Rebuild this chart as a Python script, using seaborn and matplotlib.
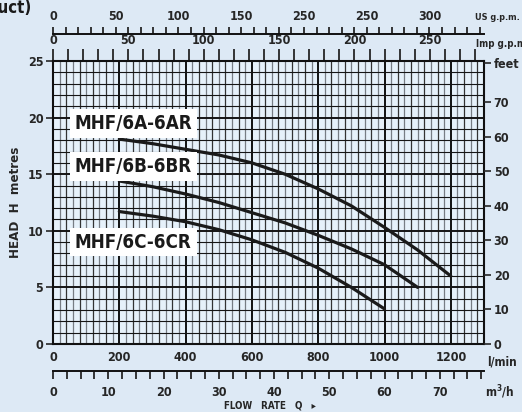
import numpy as np
import pandas as pd
import matplotlib
matplotlib.use("Agg")
import matplotlib.pyplot as plt
from matplotlib.ticker import MultipleLocator, FixedLocator
import seaborn as sns

# ---- data ----
flow_a = [200, 300, 400, 500, 600, 700, 800, 900, 1000, 1100, 1200]
head_a = [18.1, 17.7, 17.2, 16.7, 16.0, 15.0, 13.7, 12.2, 10.3, 8.3, 6.0]
flow_b = [200, 300, 400, 500, 600, 700, 800, 900, 1000, 1100]
head_b = [14.4, 13.9, 13.25, 12.5, 11.6, 10.7, 9.6, 8.4, 7.0, 5.0]
flow_c = [200, 300, 400, 500, 600, 700, 800, 900, 1000]
head_c = [11.7, 11.3, 10.8, 10.1, 9.2, 8.1, 6.7, 5.0, 3.1]
model_names = ["MHF/6A-6AR", "MHF/6B-6BR", "MHF/6C-6CR"]
label_pos_flow = [66, 66, 66]
label_pos_head = [19.5, 15.7, 9.0]

lmin_ticks = [0, 200, 400, 600, 800, 1000, 1200]
head_ticks = [0, 5, 10, 15, 20, 25]
feet_ticks = [0, 10, 20, 30, 40, 50, 60, 70]
us_ticks = [0, 50, 100, 150, 200, 250, 300]
us_labels = ["0", "50", "100", "150", "250", "250", "300"]
imp_ticks = [0, 50, 100, 150, 200, 250]
m3h_ticks = [0, 10, 20, 30, 40, 50, 60, 70]

frames = []
for name, f, h in zip(model_names, [flow_a, flow_b, flow_c], [head_a, head_b, head_c]):
    frames.append(pd.DataFrame({"flow": f, "head": h, "model": name}))
df = pd.concat(frames, ignore_index=True)

sns.set_style("ticks")
FAM = ["DejaVu Sans"]
plt.rcParams["font.family"] = FAM
plt.rcParams["font.weight"] = "bold"
plt.rcParams["font.stretch"] = "condensed"

BG = "#dde9f5"
fig = plt.figure(figsize=(5.22, 4.12), dpi=100, facecolor=BG)
ax = fig.add_axes([53 / 522, 1 - 344 / 412, (484 - 53) / 522, (344 - 61) / 412])
ax.set_facecolor("#e6f1fa")

XMAX = 1300
YMAX = 25
ax.set_xlim(0, XMAX)
ax.set_ylim(0, YMAX)

# grid
ax.xaxis.set_major_locator(FixedLocator(lmin_ticks))
ax.yaxis.set_major_locator(FixedLocator(head_ticks))
for x in np.arange(20, XMAX, 20):
    if x % 200 == 0:
        ax.axvline(x, color="#111111", lw=1.4, zorder=1)
    elif x % 40 == 0:
        ax.axvline(x, color="#333333", lw=0.9, zorder=1)
    else:
        ax.axvline(x, color="#777d84", lw=0.9, zorder=1)
for y in np.arange(1, YMAX, 1):
    ax.axhline(y, color="#151515", lw=1.4 if y % 5 == 0 else 0.8, zorder=1)

sns.lineplot(data=df, x="flow", y="head", hue="model", palette=["#1a1a1a"] * 3,
             legend=False, lw=2.3, ax=ax, zorder=3, sort=False)

for name, fx, hy in zip(model_names, label_pos_flow, label_pos_head):
    ax.text(fx, hy, name, ha="left", va="center", fontsize=13.5, fontweight="bold",
            fontstretch="condensed", color="#1a1a1a", zorder=4,
            bbox=dict(facecolor="white", edgecolor="none", pad=3.5))

for s in ax.spines.values():
    s.set_color("#111111")
    s.set_linewidth(1.5)

ax.set_xlabel("")
ax.set_ylabel("HEAD  H  metres", fontsize=9.5, fontweight="bold", labelpad=4)
ax.tick_params(axis="x", which="both", length=0, pad=5, labelsize=9)
ax.tick_params(axis="y", which="major", length=5, width=1.2, labelsize=9, pad=2)
ax.tick_params(axis="y", which="minor", length=0)
ax.set_xticklabels([str(t) for t in lmin_ticks], fontweight="bold")
ax.set_yticklabels([str(t) for t in head_ticks], fontweight="bold")

# right: feet
axr = ax.twinx()
axr.set_ylim(0, YMAX / 0.3048)
axr.set_yticks(feet_ticks + [81.3])
axr.set_yticklabels([str(t) for t in feet_ticks] + ["feet"], fontweight="bold")
axr.tick_params(axis="y", length=5, width=1.2, labelsize=9, pad=2)
for s in axr.spines.values():
    s.set_visible(False)

# top: Imp g.p.m.
imp = ax.secondary_xaxis("top", functions=(lambda x: x / 4.546, lambda g: g * 4.546))
imp.set_xticks(imp_ticks)
imp.set_xticklabels([str(t) for t in imp_ticks], fontweight="bold")
imp.xaxis.set_minor_locator(MultipleLocator(10))
imp.tick_params(axis="x", which="major", length=9, width=1.3, labelsize=9, pad=1)
imp.tick_params(axis="x", which="minor", length=9, width=1.3)
imp.spines["top"].set_visible(False)

# top: US g.p.m.
us = ax.secondary_xaxis(1 + 27 / 283, functions=(lambda x: x / 3.785, lambda g: g * 3.785))
us.set_xticks(us_ticks)
us.set_xticklabels(us_labels, fontweight="bold")
us.xaxis.set_minor_locator(MultipleLocator(10))
us.tick_params(axis="x", which="major", length=5, width=1.3, labelsize=9, pad=3)
us.tick_params(axis="x", which="minor", length=5, width=1.3)
us.spines["top"].set_linewidth(1.4)
us.spines["top"].set_color("#111111")

# bottom: m3/h
m3 = ax.secondary_xaxis(-27 / 283, functions=(lambda x: x * 0.06, lambda q: q / 0.06))
m3.set_xticks(m3h_ticks)
m3.set_xticklabels([str(t) for t in m3h_ticks], fontweight="bold")
m3.xaxis.set_minor_locator(MultipleLocator(2.5))
m3.tick_params(axis="x", which="major", length=6, width=1.3, labelsize=9, pad=5)
m3.tick_params(axis="x", which="minor", length=6, width=1.3)
m3.spines["bottom"].set_linewidth(1.4)
m3.spines["bottom"].set_color("#111111")

# unit labels
fig.text(487 / 522, 1 - 362 / 412, "l/min", fontsize=8.5, fontweight="bold", va="center", ha="left")
fig.text(485 / 522, 1 - 392 / 412, "m$^3$/h", fontsize=8.5, fontweight="bold", va="center", ha="left")
fig.text(520 / 522, 1 - 18 / 412, "US g.p.m.", fontsize=6.5, fontweight="bold", va="center", ha="right")
fig.text(476 / 522, 1 - 44 / 412, "Imp g.p.m.", fontsize=7, fontweight="bold", va="center", ha="left")
fig.text(270 / 522, 1 - 406 / 412, "FLOW   RATE   Q   \u25B8", fontsize=7, fontweight="bold",
         va="center", ha="center")
fig.text(-0.025, 1 - 8 / 412, "duct)", fontsize=12, fontweight="bold", va="center", ha="left",
         color="#1a1a1a")

fig.savefig("out.png", dpi=100, facecolor=BG)
